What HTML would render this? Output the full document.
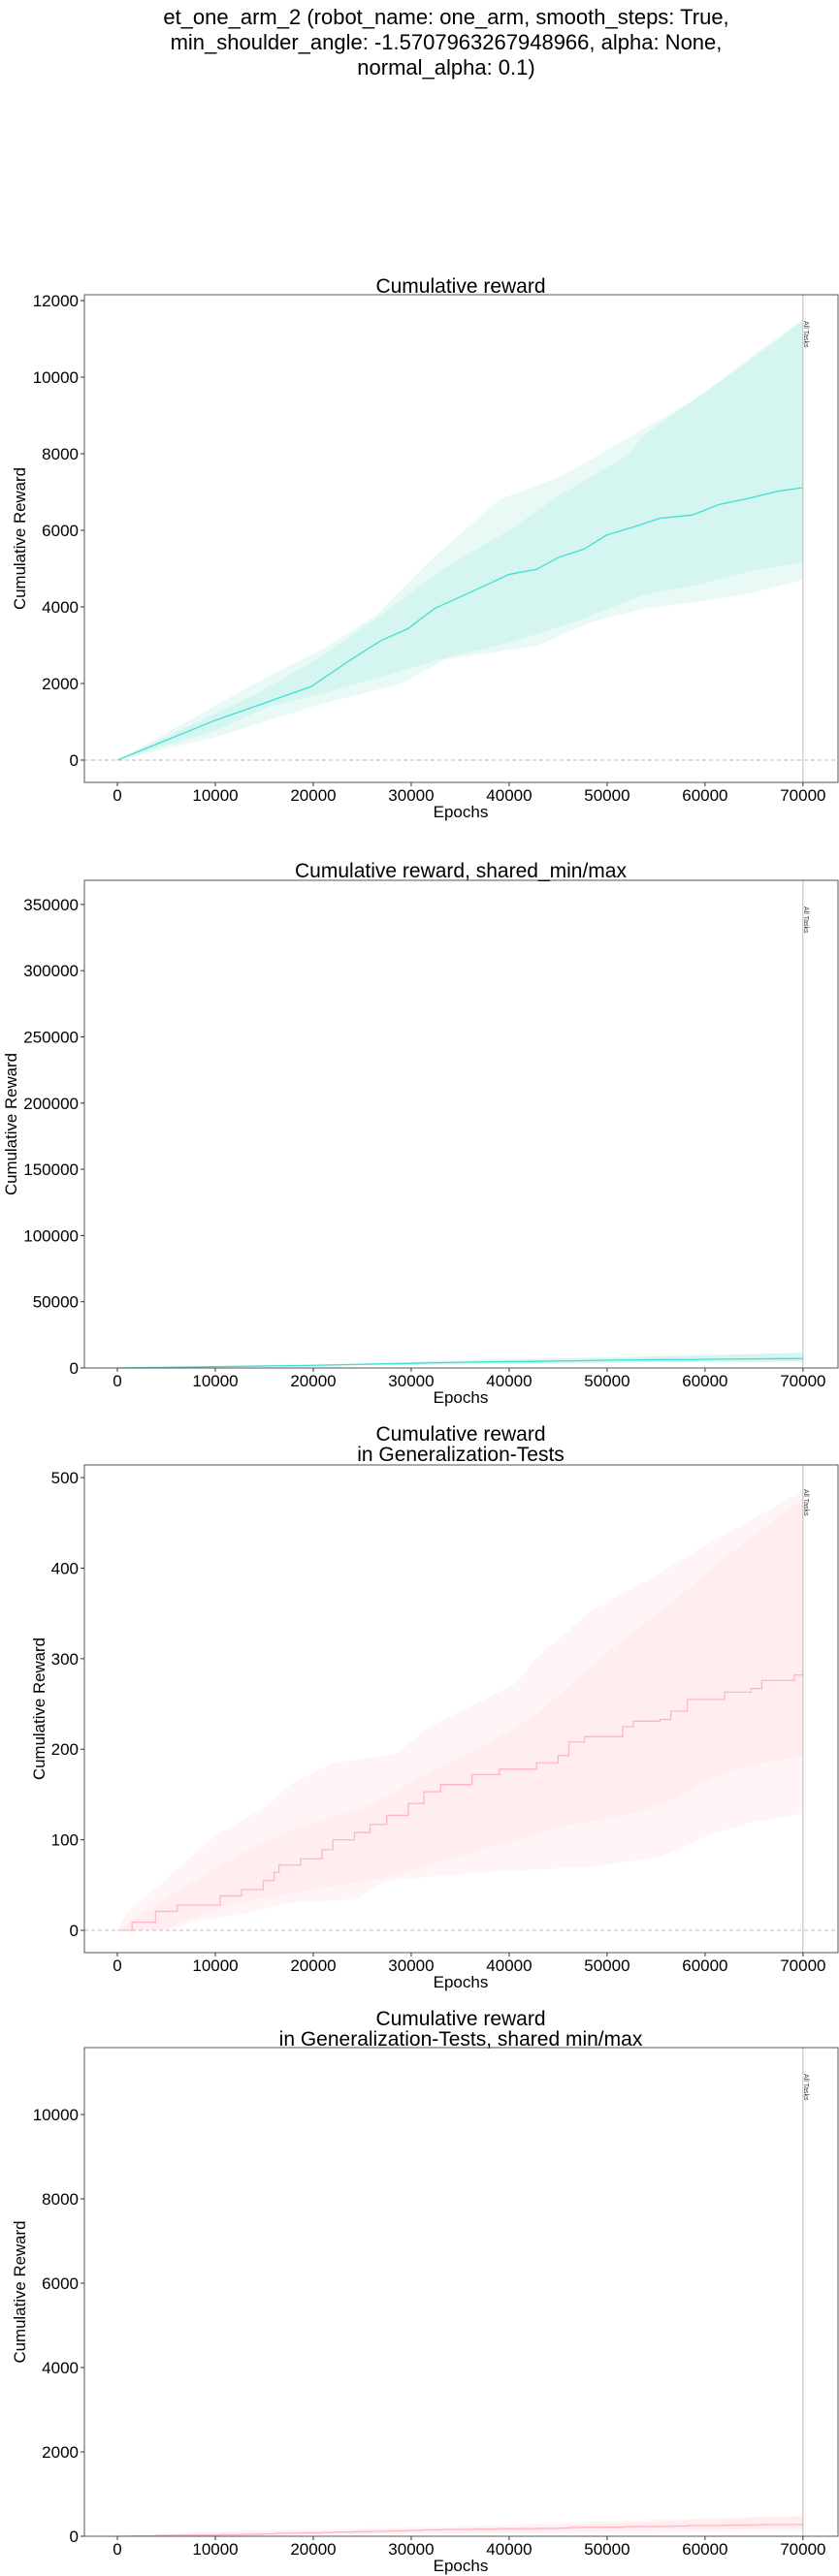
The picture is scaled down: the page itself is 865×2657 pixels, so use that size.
<!DOCTYPE html>
<html><head><meta charset="utf-8"><style>
html,body{margin:0;padding:0;background:#fff;}
svg{display:block;font-family:"Liberation Sans","DejaVu Sans",sans-serif;}
</style></head><body>
<svg id="fig" width="865" height="2657" viewBox="0 0 865 2657" xmlns="http://www.w3.org/2000/svg">
<text x="460" y="25" font-size="22" text-anchor="middle">et_one_arm_2 (robot_name: one_arm, smooth_steps: True,</text>
<text x="460" y="51" font-size="22" text-anchor="middle">min_shoulder_angle: -1.5707963267948966, alpha: None,</text>
<text x="460" y="77" font-size="22" text-anchor="middle">normal_alpha: 0.1)</text>
</svg>
<script>
// ---- data: training cumulative reward (teal) ----
const trainMeanX = [0,9900,19800,23600,26900,29650,32400,36200,40000,42800,45000,47700,49900,52700,55400,58700,61400,64700,67500,70000];
const trainMeanY = [0,1030,1920,2585,3120,3430,3960,4400,4850,4980,5290,5515,5870,6090,6315,6400,6670,6850,7025,7115];
const trainInnerUpX = [0,14300,20900,26400,32900,40000,45000,52100,53800,58700,64200,70000];
const trainInnerUpY = [0,1740,2720,3695,4940,6000,6890,7960,8490,9380,10360,11470];
const trainInnerLoX = [0,9900,15400,20900,26400,32900,40000,46600,53800,59300,64700,70000];
const trainInnerLoY = [0,760,1385,1740,2140,2630,3070,3600,4320,4580,4940,5160];
const trainOuterUpX = [0,15400,20900,26400,31900,39000,45500,52700,59300,64700,70000];
const trainOuterUpY = [0,2185,2900,3780,5200,6800,7430,8490,9470,10530,11510];
const trainOuterLoX = [0,9900,20900,29100,33500,42800,48300,53800,59300,64700,70000];
const trainOuterLoY = [0,590,1475,2010,2630,2985,3600,3960,4140,4360,4715];
// ---- data: generalization cumulative reward (pink, step) ----
const genMeanX = [0,1500,3900,6100,10500,12700,14900,16000,16500,18700,20900,22000,24200,25800,27500,29700,31300,33000,36200,39000,42800,45000,46100,47700,51600,52700,55400,56500,58200,62000,64700,65800,69100,70000];
const genMeanY = [0,9,21,28,38,45,55,64,72,79,89,100,108,117,127,140,153,161,172,178,185,193,208,214,225,231,233,242,255,263,267,276,282,286];
const genOuterUpX = [0,1000,4400,9900,15400,17600,22000,28500,31900,35100,40600,42800,48300,51000,54800,59800,64200,70000];
const genOuterUpY = [0,20,51,104,138,161,185,195,225,242,272,301,352,369,390,424,450,486];
const genOuterLoX = [0,5500,7200,12700,17600,24200,27500,37300,48300,55400,60900,64700,70000];
const genOuterLoY = [0,0,8,18,30,34,55,64,70,81,107,119,129];
const genInnerUpX = [0,7200,12700,18700,25300,31900,37300,42800,49900,56500,62000,70000];
const genInnerUpY = [0,51,85,115,136,174,204,238,306,361,412,477];
const genInnerLoX = [0,4400,12100,18100,27500,37300,45500,53800,56500,60900,64700,70000];
const genInnerLoY = [0,0,30,42,59,89,115,132,144,170,182,193];
const xTicks = [0,10000,20000,30000,40000,50000,60000,70000];
const yTicks1 = [0,2000,4000,6000,8000,10000,12000];
const yTicks2 = [0,50000,100000,150000,200000,250000,300000,350000];
const yTicks3 = [0,100,200,300,400,500];
const yTicks4 = [0,2000,4000,6000,8000,10000];

const NS="http://www.w3.org/2000/svg";
const fig=document.getElementById('fig');
function mk(tag,attrs,parent){const e=document.createElementNS(NS,tag);for(const k in attrs)e.setAttribute(k,attrs[k]);(parent||fig).appendChild(e);return e;}

function linePts(xs,ys,X,Y,step){
  let p=[];
  for(let i=0;i<xs.length;i++){
    if(step&&i>0)p.push(X(xs[i])+','+Y(ys[i-1]));
    p.push(X(xs[i])+','+Y(ys[i]));
  }
  return p;
}
function bandPath(ux,uy,lx,ly,X,Y){
  const up=linePts(ux,uy,X,Y,false);
  const lo=linePts(lx,ly,X,Y,false).reverse();
  return 'M'+up.join('L')+'L'+lo.join('L')+'Z';
}

function drawChart(c){
  const g=mk('g',{});
  
  
  const L=87,R=864,T=c.top,B=c.bottom;
  const X=v=>L+(v-(-3370))/(73580-(-3370))*(R-L);
  const Y=v=>B-(v-c.ymin)/(c.ymax-c.ymin)*(B-T);
  const cp='clip-'+c.name;
  const defs=mk('defs',{},g);
  const clip=mk('clipPath',{id:cp},defs);
  mk('rect',{x:L,y:T,width:R-L,height:B-T},clip);
  const plot=mk('g',{'clip-path':'url(#'+cp+')'},g);
  const d=c.data;
  const ob=mk('path',{d:bandPath(d.ouX,d.ouY,d.olX,d.olY,X,Y),fill:c.outer,stroke:'none'},plot);
  
  
  const ib=mk('path',{d:bandPath(d.iuX,d.iuY,d.ilX,d.ilY,X,Y),fill:c.inner,stroke:'none'},plot);
  
  
  if(c.zeroLine){
    const z=mk('line',{x1:L,x2:R,y1:Y(0),y2:Y(0),stroke:'#bbb','stroke-width':1,'stroke-dasharray':'4,3'},plot);
    
    
  }
  const ml=mk('polyline',{points:linePts(d.mX,d.mY,X,Y,c.step).join(' '),fill:'none',stroke:c.line,'stroke-width':1.3},plot);
  
  
  const vl=mk('line',{x1:X(70000),x2:X(70000),y1:T,y2:B,stroke:'#bbb','stroke-width':1},g);
  
  
  const at=mk('text',{x:0,y:0,'font-size':7,transform:'translate('+(X(70000)+1)+','+(T+c.atOff)+') rotate(90)','text-anchor':'start',fill:'#333'},g);
  at.textContent='All Tasks';
  
  
  const fr=mk('rect',{x:L,y:T,width:R-L,height:B-T,fill:'none',stroke:'#555','stroke-width':1},g);
  
  
  xTicks.forEach(t=>{
    mk('line',{x1:X(t),x2:X(t),y1:B,y2:B+4,stroke:'#333'},g);
    const tx=mk('text',{x:X(t),y:B+19,'font-size':17,'text-anchor':'middle'},g);
    tx.textContent=t;
    
    
  });
  c.yTicks.forEach(t=>{
    mk('line',{x1:L-4,x2:L,y1:Y(t),y2:Y(t),stroke:'#333'},g);
    const ty=mk('text',{x:L-6,y:Y(t)+6,'font-size':17,'text-anchor':'end'},g);
    ty.textContent=t;
    
    
  });
  const xl=mk('text',{x:475,y:B+36,'font-size':17,'text-anchor':'middle'},g);
  xl.textContent='Epochs';
  
  
  const yc=(T+B)/2;
  const yl=mk('text',{x:0,y:0,'font-size':17,'text-anchor':'middle',textLength:147,lengthAdjust:'spacingAndGlyphs',transform:'translate('+(c.ylx+6)+','+yc+') rotate(-90)'},g);
  yl.textContent='Cumulative Reward';
  
  
  c.titles.forEach((s,i)=>{
    const tt=mk('text',{x:475,y:c.titleY[i]+7,'font-size':21,'text-anchor':'middle'},g);
    tt.textContent=s;
    
    
  });
}
const trainData={mX:trainMeanX,mY:trainMeanY,iuX:trainInnerUpX,iuY:trainInnerUpY,ilX:trainInnerLoX,ilY:trainInnerLoY,ouX:trainOuterUpX,ouY:trainOuterUpY,olX:trainOuterLoX,olY:trainOuterLoY};
const genData={mX:genMeanX,mY:genMeanY,iuX:genInnerUpX,iuY:genInnerUpY,ilX:genInnerLoX,ilY:genInnerLoY,ouX:genOuterUpX,ouY:genOuterUpY,olX:genOuterLoX,olY:genOuterLoY};
const teal={outer:'#e8f9f6',inner:'#d4f5f0',line:'#40e0d0'};
const pink={outer:'#fff5f7',inner:'#ffedf0',line:'#ffb6c1'};
drawChart(Object.assign({name:'chart-cumulative-reward',top:304,bottom:807,ymin:-582,ymax:12152,yTicks:yTicks1,data:trainData,step:false,zeroLine:true,titles:['Cumulative reward'],titleY:[295],ylx:20,atOff:27},teal));
drawChart(Object.assign({name:'chart-cumulative-reward-shared',top:908,bottom:1411,ymin:0,ymax:368200,yTicks:yTicks2,data:trainData,step:false,zeroLine:false,titles:['Cumulative reward, shared_min/max'],titleY:[898],ylx:11,atOff:27},teal));
drawChart(Object.assign({name:'chart-generalization',top:1511,bottom:2014,ymin:-24.6,ymax:514,yTicks:yTicks3,data:genData,step:true,zeroLine:true,titles:['Cumulative reward','in Generalization-Tests'],titleY:[1479,1500],ylx:40,atOff:25},pink));
drawChart(Object.assign({name:'chart-generalization-shared',top:2112,bottom:2616,ymin:0,ymax:11586,yTicks:yTicks4,data:genData,step:true,zeroLine:false,titles:['Cumulative reward','in Generalization-Tests, shared min/max'],titleY:[2082,2103],ylx:20,atOff:27},pink));
</script>
</body></html>
